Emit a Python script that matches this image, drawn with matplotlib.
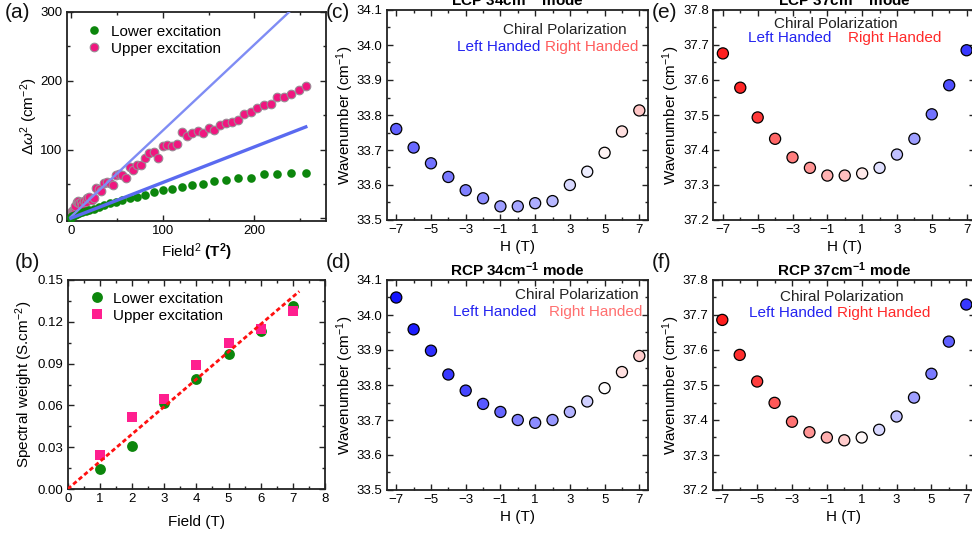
import numpy as np
import matplotlib
matplotlib.use("Agg")
import matplotlib.pyplot as plt
from matplotlib.ticker import MultipleLocator, FixedLocator

plt.rcParams['font.family'] = ['Liberation Sans', 'DejaVu Sans']
plt.rcParams['mathtext.fontset'] = 'custom'
plt.rcParams['mathtext.rm'] = 'Liberation Sans'
plt.rcParams['mathtext.it'] = 'Liberation Sans:italic'
plt.rcParams['mathtext.bf'] = 'Liberation Sans:bold'

# ---------------- data: panel (a) ----------------
field_lower = [0, 0.5, 1, 1.5, 2, 2.5, 3, 3.5, 4, 4.5, 5, 5.5, 6, 6.5, 7, 7.5, 8,
               8.5, 9, 9.5, 10, 10.5, 11, 11.5, 12, 12.5, 13, 13.5, 14, 14.5, 15, 15.5, 16]
dw2_lower = [1, 2, 3, 3.5, 5, 6, 7, 8.5, 10, 12, 14, 17, 19.5, 22, 24, 27, 29,
             31.5, 34, 37.5, 40.5, 42.7, 46, 48.5, 50, 54.5, 55.5, 58, 58, 65, 64.5, 66.5, 66.5]
field_upper = [0, 0.25, 0.5, 0.75, 1.0, 1.25, 1.5, 1.75, 2.0, 2.25, 2.5, 2.75, 3.0, 3.25,
               3.5, 3.75, 4.0, 4.25, 4.5, 4.75, 5.0, 5.25, 5.5, 5.75, 6.0, 6.25, 6.5, 6.75,
               7.0, 7.25, 7.5, 7.75, 8.0, 8.25, 8.5, 8.75, 9.0, 9.25, 9.5, 9.75, 10.0, 10.25,
               10.5, 10.75, 11.0, 11.25, 11.5, 11.75, 12.0, 12.25, 12.5, 12.75, 13.0, 13.25,
               13.5, 13.75, 14.0, 14.25, 14.5, 14.75, 15.0, 15.25, 15.5, 15.75, 16.0]
dw2_upper = [2, 3, 5, 8, 10, 6, 9, 12, 14, 18, 24, 25, 22, 24, 20, 25, 23, 30, 31, 27, 30,
             44, 42, 40, 51, 53, 52, 49, 63, 65, 63, 58, 74, 70, 77, 77, 88, 95, 96, 88,
             105, 107, 105, 108, 125, 120, 124, 127, 124, 131, 128, 136, 139, 140, 143,
             152, 154, 160, 165, 166, 177, 176, 181, 186, 192]
fit_slopes = [1.253, 0.519]
fit_intercepts = [2.0, 0.0]
fit_range = [0, 256]

# ---------------- data: panel (b) ----------------
field_b = [1, 2, 3, 4, 5, 6, 7]
sw_lower = [0.0141, 0.0311, 0.0615, 0.0792, 0.0967, 0.1132, 0.1313]
sw_upper = [0.0244, 0.0519, 0.0646, 0.0888, 0.1045, 0.1148, 0.1278]
sw_fit_slope = 0.0197
sw_fit_range = [0, 7.2]

# ---------------- data: panels (c)-(f) ----------------
H = [-7, -6, -5, -4, -3, -2, -1, 0, 1, 2, 3, 4, 5, 6, 7]
lcp34 = [33.760, 33.707, 33.662, 33.623, 33.585, 33.562, 33.539, 33.539, 33.548,
         33.554, 33.600, 33.638, 33.692, 33.753, 33.813]
rcp34 = [34.050, 33.959, 33.898, 33.830, 33.784, 33.746, 33.723, 33.700, 33.692,
         33.700, 33.723, 33.753, 33.791, 33.837, 33.883]
lcp37 = [37.676, 37.578, 37.493, 37.432, 37.379, 37.349, 37.327, 37.327, 37.333,
         37.349, 37.387, 37.432, 37.502, 37.585, 37.685]
rcp37 = [37.686, 37.586, 37.510, 37.449, 37.395, 37.365, 37.350, 37.342, 37.350,
         37.372, 37.410, 37.464, 37.532, 37.624, 37.730]
# chirality (colour) value: negative = left handed (blue), positive = right handed (red)
chi_lcp34 = [-0.62, -0.58, -0.55, -0.52, -0.50, -0.45, -0.38, -0.35, -0.32, -0.28, -0.15, -0.07, 0.04, 0.12, 0.22]
chi_rcp34 = [-0.92, -0.88, -0.82, -0.78, -0.72, -0.65, -0.60, -0.50, -0.45, -0.40, -0.30, -0.18, 0.00, 0.12, 0.20]
chi_lcp37 = [0.88, 0.85, 0.78, 0.60, 0.50, 0.42, 0.30, 0.25, 0.08, -0.12, -0.25, -0.38, -0.55, -0.68, -0.78]
chi_rcp37 = [0.88, 0.82, 0.75, 0.65, 0.55, 0.42, 0.32, 0.20, 0.03, -0.15, -0.25, -0.38, -0.52, -0.62, -0.78]

W, Hpx = 972, 537
fig = plt.figure(figsize=(W / 100, Hpx / 100), dpi=100)


def rect(left, top, right, bottom):
    return [left / W, 1 - bottom / Hpx, (right - left) / W, (bottom - top) / Hpx]


def style(ax):
    ax.tick_params(which='both', direction='in', top=True, right=True,
                   labelsize=9.5, width=1.0, color='#222222', pad=3)
    ax.tick_params(which='major', length=4.5)
    ax.tick_params(which='minor', length=2.5)
    for s in ax.spines.values():
        s.set_linewidth(1.3)
        s.set_color('#222222')


def labels(ax, xl, yl, xy, yx, fs=11):
    ax.set_xlabel(xl, fontsize=fs)
    ax.set_ylabel(yl, fontsize=fs)
    ax.xaxis.set_label_coords(0.5, xy)
    ax.yaxis.set_label_coords(yx, 0.5)
    ax.xaxis.label.set_va('center')
    ax.yaxis.label.set_va('center')


# ---------- (a) ----------
axa = fig.add_axes(rect(66.7, 12, 326, 221))
style(axa)
xl = np.array(field_lower) ** 2
xu = np.array(field_upper) ** 2
xf = np.array(fit_range)
axa.plot(xf, fit_slopes[0] * xf + fit_intercepts[0], color='#7f8cf4', lw=1.7, zorder=4)
axa.plot(xf, fit_slopes[1] * xf + fit_intercepts[1], color='#5a6af0', lw=2.4, zorder=4)
axa.plot(xl, dw2_lower, 'o', color='#0c860c', ms=6.2, mew=0, label='Lower excitation', zorder=3)
axa.plot(xu, dw2_upper, 'o', color='#f0167f', mec='#9a8a95', mew=0.8, ms=6.2,
         label='Upper excitation', zorder=2)
axa.set_xlim(-4.5, 278)
axa.set_ylim(-4, 300)
axa.xaxis.set_major_locator(FixedLocator([0, 100, 200]))
axa.xaxis.set_minor_locator(FixedLocator([50, 150, 250]))
axa.yaxis.set_major_locator(FixedLocator([0, 100, 200, 300]))
axa.yaxis.set_minor_locator(FixedLocator([50, 150, 250]))
labels(axa, r'Field$^2$ $\mathbf{(T^2)}$', r'$\Delta\omega^2$ (cm$^{-2}$)', -0.15, -0.145)
axa.legend(loc='upper left', bbox_to_anchor=(0.03, 0.99), frameon=False, fontsize=11,
           handletextpad=0.5, labelspacing=0.2, borderpad=0.2, handlelength=1.2)

# ---------- (b) ----------
axb = fig.add_axes(rect(67.7, 280, 325, 489))
style(axb)
xs = np.array(sw_fit_range)
axb.plot(xs, sw_fit_slope * xs, color='#ff1010', lw=2.0, dashes=(1.6, 1.0), zorder=4)
axb.plot(field_b, sw_lower, 'o', color='#0c860c', ms=7.8, mew=0, label='Lower excitation', zorder=2)
axb.plot(field_b, sw_upper, 's', color='#ff1f8f', ms=7.0, mew=0, label='Upper excitation', zorder=3)
axb.set_xlim(0, 8)
axb.set_ylim(0, 0.15)
axb.xaxis.set_major_locator(MultipleLocator(1))
axb.xaxis.set_minor_locator(MultipleLocator(0.5))
axb.yaxis.set_major_locator(MultipleLocator(0.03))
axb.yaxis.set_minor_locator(MultipleLocator(0.015))
axb.yaxis.set_major_formatter(matplotlib.ticker.FormatStrFormatter('%.2f'))
labels(axb, 'Field (T)', r'Spectral weight (S.cm$^{-2}$)', -0.157, -0.17)
axb.legend(loc='upper left', bbox_to_anchor=(0.035, 0.995), frameon=False, fontsize=11,
           handletextpad=0.5, labelspacing=0.2, borderpad=0.2, handlelength=1.2)

# ---------- (c)-(f) ----------
panels = [
    (rect(386.7, 10, 648, 220), lcp34, chi_lcp34, (33.5, 34.1), r'LCP 34cm$^{\mathbf{-1}}$ mode', '#ff5c5c',
     (626.7, 30), (456.7, 46.7), (545, 46.7)),
    (rect(386.7, 280, 648, 490), rcp34, chi_rcp34, (33.5, 34.1), r'RCP 34cm$^{\mathbf{-1}}$ mode', '#ff7070',
     (638.3, 295), (453.3, 312.3), (549, 312.3)),
    (rect(713.3, 10, 975.3, 220), lcp37, chi_lcp37, (37.2, 37.8), r'LCP 37cm$^{\mathbf{-1}}$ mode', '#ff2a2a',
     (897.3, 24), (748.3, 37.7), (848.3, 37.7)),
    (rect(712.7, 280, 975, 490), rcp37, chi_rcp37, (37.2, 37.8), r'RCP 37cm$^{\mathbf{-1}}$ mode', '#ff2a2a',
     (904, 296.7), (749.3, 313.3), (836.7, 313.3)),
]
for pos, yv, cv, ylim, title, rcol, cp, lp, rp in panels:
    ax = fig.add_axes(pos)
    style(ax)
    ax.scatter(H, yv, c=cv, cmap='bwr', vmin=-1, vmax=1, s=64, edgecolors='black',
               linewidths=0.9, zorder=3, clip_on=False)
    ax.set_xlim(-7.55, 7.5)
    ax.set_ylim(*ylim)
    ax.xaxis.set_major_locator(FixedLocator([-7, -5, -3, -1, 1, 3, 5, 7]))
    ax.xaxis.set_minor_locator(FixedLocator([-6, -4, -2, 0, 2, 4, 6]))
    ax.yaxis.set_major_locator(MultipleLocator(0.1))
    ax.yaxis.set_minor_locator(MultipleLocator(0.05))
    ax.yaxis.set_major_formatter(matplotlib.ticker.FormatStrFormatter('%.1f'))
    labels(ax, 'H (T)', r'Wavenumber (cm$^{-1}$)', -0.13, -0.16)
    ax.set_title(title, fontsize=11, fontweight='bold', pad=3)
    fig.text(cp[0] / W, 1 - cp[1] / Hpx, 'Chiral Polarization', ha='right', va='center',
             fontsize=11, color='#222222')
    fig.text(lp[0] / W, 1 - lp[1] / Hpx, 'Left Handed', ha='left', va='center',
             fontsize=11, color='#2424f0')
    fig.text(rp[0] / W, 1 - rp[1] / Hpx, 'Right Handed', ha='left', va='center',
             fontsize=11, color=rcol)

# panel letters
for lab, x, y in [('(a)', 5, 13), ('(b)', 15, 263), ('(c)', 326, 13), ('(d)', 326, 263),
                  ('(e)', 652, 13), ('(f)', 652, 263)]:
    fig.text(x / W, 1 - y / Hpx, lab, fontsize=15, ha='left', va='center', color='#111111')

fig.savefig('out.png', dpi=100)
